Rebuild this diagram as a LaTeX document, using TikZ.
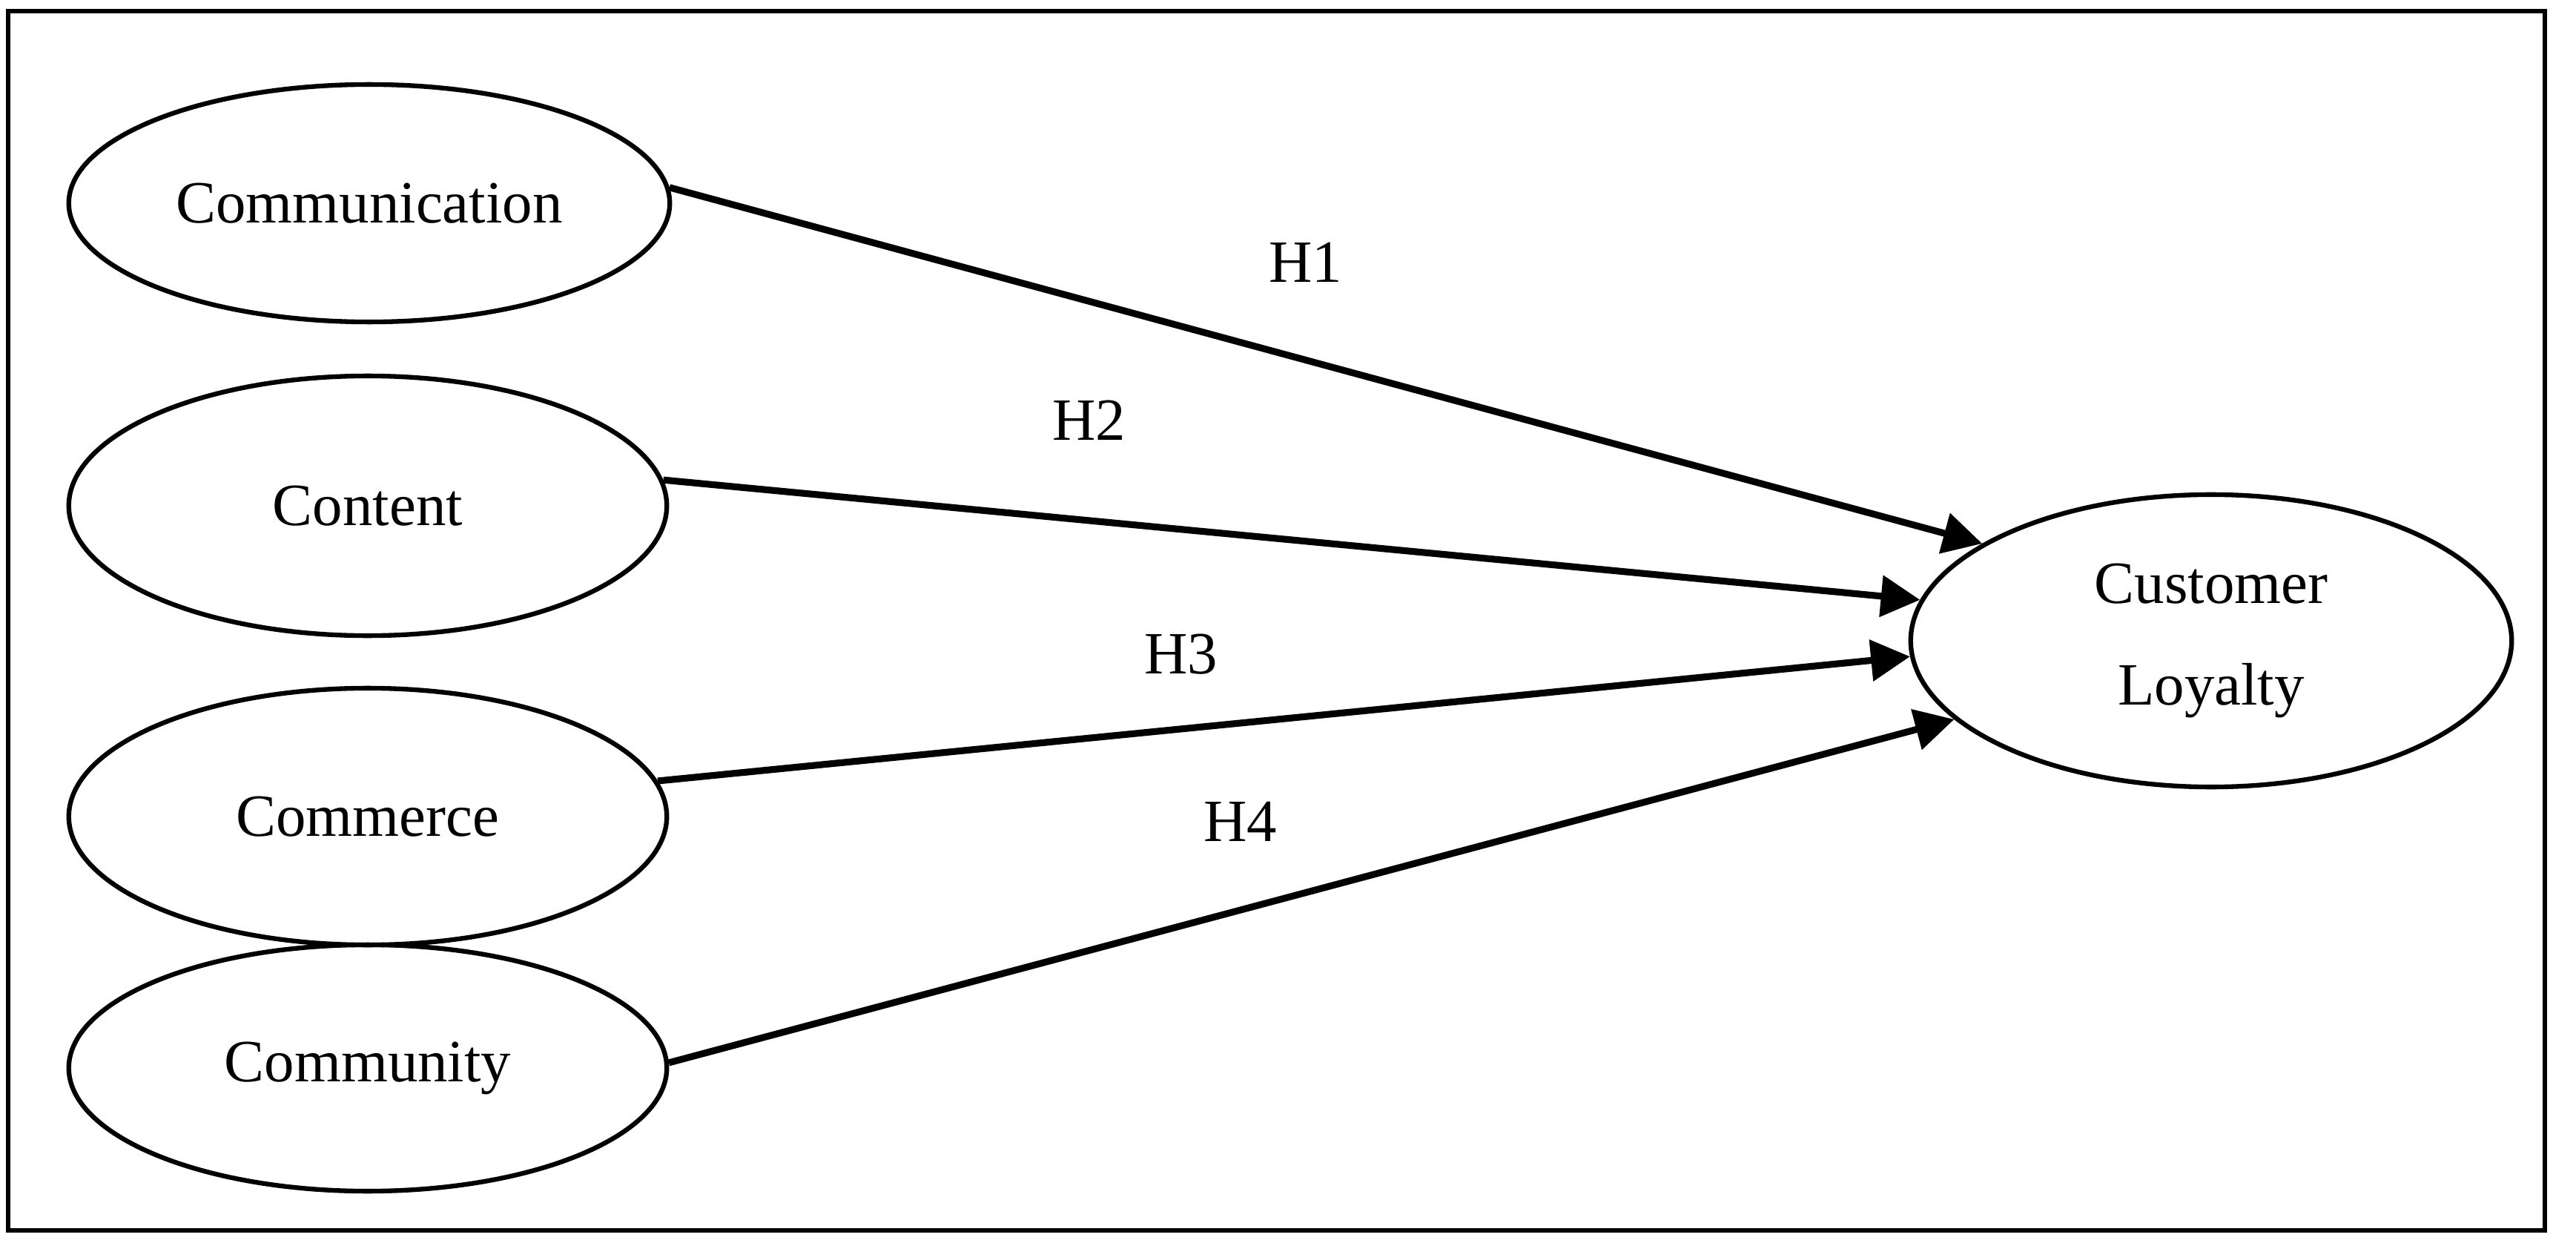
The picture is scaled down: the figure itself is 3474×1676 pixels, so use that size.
\documentclass[tikz,border=0pt]{standalone}
\usepackage{fontspec}
\setmainfont{Liberation Serif}
\usetikzlibrary{shapes.geometric,arrows.meta}
\begin{document}
\begin{tikzpicture}[x=0.01cm,y=-0.01cm,
  construct/.style={draw,line width=1.8pt,ellipse,inner sep=0pt,font=\fontsize{23}{39}\selectfont,align=center},
  path/.style={line width=2.6pt,-{Triangle[length=15pt,width=15.5pt]}},
  hlabel/.style={font=\fontsize{23}{28}\selectfont}]
\useasboundingbox (0,0) rectangle (3474,1676);
\draw[line width=1.6pt] (11,15) rectangle (3432,1659);
\node[construct,minimum width=8.1cm,minimum height=3.2cm] (comm) at (498,274) {Communication};
\node[construct,minimum width=8.06cm,minimum height=3.5cm] (cont) at (496,682) {Content};
\node[construct,minimum width=8.06cm,minimum height=3.46cm] (comc) at (496,1101) {Commerce};
\node[construct,minimum width=8.06cm,minimum height=3.32cm] (comy) at (496,1440) {Community};
\node[construct,minimum width=8.1cm,minimum height=3.94cm] (cl) at (2982,864) {Customer\\Loyalty};
\draw[path] (comm.3) -- (cl.157);
\draw[path] (cont.5) -- (cl.172);
\draw[path] (comc.7) -- (cl.183);
\draw[path] (comy.1.5) -- (cl.197);
\node[hlabel] (h1) at (1761,354) {H1};
\node[hlabel] (h2) at (1469,567) {H2};
\node[hlabel] (h3) at (1593,882) {H3};
\node[hlabel] (h4) at (1673,1108) {H4};
\end{tikzpicture}
\end{document}
